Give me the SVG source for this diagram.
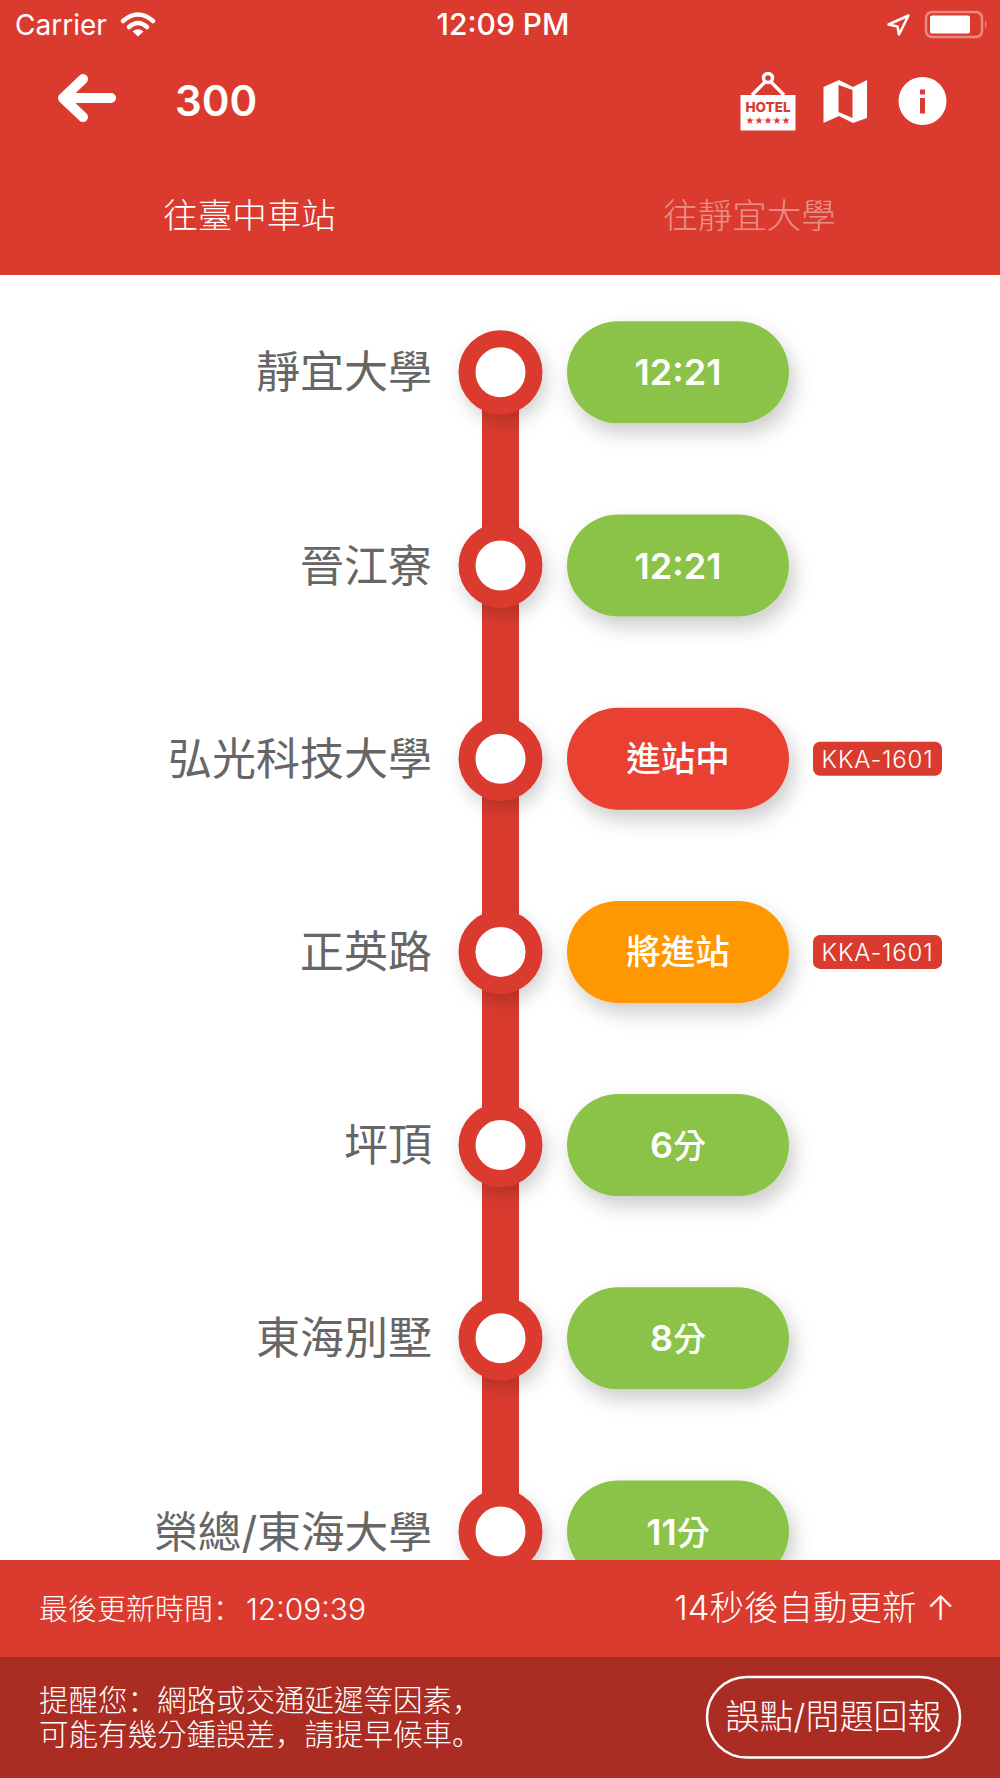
<svg xmlns="http://www.w3.org/2000/svg" width="1000" height="1778" viewBox="0 0 1000 1778">
<defs>
<style>
text{font-family:"Inter","Noto Sans CJK TC","Noto Sans CJK SC",sans-serif;fill:#fff}
.st{font-size:44px;fill:#666;text-anchor:end;font-weight:400}
.pt{font-size:36px;font-weight:600;text-anchor:middle}
.pu{font-size:33px;font-weight:500}
.pc{font-size:34.500px;font-weight:500;text-anchor:middle}
.bd{font-size:24px;font-weight:300;text-anchor:middle;letter-spacing:.8px}
.ring{fill:#fff;stroke:#DA3B2E;stroke-width:17}
.sc{font-family:"Noto Sans CJK SC",sans-serif}
</style>
<filter id="sh" x="-30%" y="-40%" width="170%" height="200%"><feDropShadow dx="5" dy="10" stdDeviation="10" flood-color="#000" flood-opacity=".2"/></filter>
<filter id="sc" x="-40%" y="-40%" width="190%" height="190%"><feDropShadow dx="4" dy="8" stdDeviation="9" flood-color="#000" flood-opacity=".18"/></filter>
<linearGradient id="bar" x1="0" x2="0" y1="0" y2="1"><stop offset="0" stop-color="#BD342A"/><stop offset=".16" stop-color="#DA3B2E"/></linearGradient>
</defs>
<rect width="1000" height="1778" fill="#fff"/>
<g id="connectors">
<rect x="482" y="372.300" width="37" height="193.200" fill="url(#bar)"/>
<rect x="482" y="565.500" width="37" height="193.200" fill="url(#bar)"/>
<rect x="482" y="758.700" width="37" height="193.200" fill="url(#bar)"/>
<rect x="482" y="951.900" width="37" height="193.200" fill="url(#bar)"/>
<rect x="482" y="1145.100" width="37" height="193.200" fill="url(#bar)"/>
<rect x="482" y="1338.300" width="37" height="193.200" fill="url(#bar)"/>
</g>
<g id="stop-1"><text class="st" x="432" y="388.300">靜宜大學</text><circle class="ring" cx="500.500" cy="372.300" r="33.500" filter="url(#sc)"/><rect x="567" y="321.300" width="222" height="102" rx="51" fill="#8BC34A" filter="url(#sh)"/><text class="pt" x="678" y="385.300">12:21</text></g>
<g id="stop-2"><text class="st" x="432" y="581.500">晉江寮</text><circle class="ring" cx="500.500" cy="565.500" r="33.500" filter="url(#sc)"/><rect x="567" y="514.500" width="222" height="102" rx="51" fill="#8BC34A" filter="url(#sh)"/><text class="pt" x="678" y="578.500">12:21</text></g>
<g id="stop-3"><text class="st" x="432" y="774.700">弘光科技大學</text><circle class="ring" cx="500.500" cy="758.700" r="33.500" filter="url(#sc)"/><rect x="567" y="707.700" width="222" height="102" rx="51" fill="#EA4033" filter="url(#sh)"/><text class="pc" x="678" y="771">進站中</text><rect x="813" y="741.700" width="129" height="34" rx="7" fill="#DA3B2E"/><text class="bd" x="877.500" y="767.500">KKA-1601</text></g>
<g id="stop-4"><text class="st" x="432" y="967.900">正英路</text><circle class="ring" cx="500.500" cy="951.900" r="33.500" filter="url(#sc)"/><rect x="567" y="900.900" width="222" height="102" rx="51" fill="#FF9800" filter="url(#sh)"/><text class="pc" x="678" y="964">將進站</text><rect x="813" y="934.900" width="129" height="34" rx="7" fill="#DA3B2E"/><text class="bd" x="877.500" y="960.700">KKA-1601</text></g>
<g id="stop-5"><text class="st" x="432" y="1161.100">坪頂</text><circle class="ring" cx="500.500" cy="1145.100" r="33.500" filter="url(#sc)"/><rect x="567" y="1094.100" width="222" height="102" rx="51" fill="#8BC34A" filter="url(#sh)"/><text class="pt" x="678" y="1158">6<tspan class="pu">分</tspan></text></g>
<g id="stop-6"><text class="st" x="432" y="1354.300">東海別墅</text><circle class="ring" cx="500.500" cy="1338.300" r="33.500" filter="url(#sc)"/><rect x="567" y="1287.300" width="222" height="102" rx="51" fill="#8BC34A" filter="url(#sh)"/><text class="pt" x="678" y="1351.300">8<tspan class="pu">分</tspan></text></g>
<g id="stop-7"><text class="st" x="432" y="1547.500" style="font-size:43.700px">榮總/東海大學</text><circle class="ring" cx="500.500" cy="1531.500" r="33.500" filter="url(#sc)"/><rect x="567" y="1480.500" width="222" height="102" rx="51" fill="#8BC34A" filter="url(#sh)"/><text class="pt" x="678" y="1544.500">11<tspan class="pu">分</tspan></text></g>
<g id="header">
<rect width="1000" height="275" fill="#DA3B2E"/>
<text x="15" y="35" font-size="28" font-weight="400">Carrier</text>
<g id="wifi" fill="none" stroke="#fff" stroke-linecap="round"><path d="M123 21Q138 8 153 21" stroke-width="4.500"/><path d="M129 27Q138 19 147 27" stroke-width="4.500"/><path d="M132.500 31.500L138 36.500L143.500 31.500Q138 27 132.500 31.500Z" fill="#fff" stroke="none"/></g>
<text x="503" y="35" font-size="30" font-weight="500" text-anchor="middle">12:09 PM</text>
<path d="M888.500 24.500L908.500 15.500L899 34.500L897.500 26.500Z" fill="none" stroke="#fff" stroke-width="2.500" stroke-linejoin="round"/>
<rect x="926" y="12" width="56" height="25" rx="6" fill="none" stroke="#fff" stroke-opacity=".4" stroke-width="2.500"/>
<rect x="930" y="15.500" width="40" height="18" rx="2" fill="#fff"/>
<path d="M985 20Q988 24.500 985 29Z" fill="#fff" fill-opacity=".4"/>
<path d="M63 98H111M83 79L63 98L83 117" fill="none" stroke="#fff" stroke-width="10" stroke-linecap="round" stroke-linejoin="round"/>
<text x="175" y="116" font-size="42" font-weight="600">300</text>
<g id="hotel-icon"><path d="M752 95L768 79M784 95L768 79" stroke="#fff" stroke-width="3.500"/><circle cx="768" cy="78" r="4.500" fill="#DA3B2E" stroke="#fff" stroke-width="3.500"/><rect x="740.500" y="95" width="55" height="35.500" fill="#fff"/><text x="768" y="112" font-size="13.500" font-weight="800" text-anchor="middle" style="fill:#DA3B2E">HOTEL</text><text x="768" y="124" font-size="10" text-anchor="middle" style="fill:#DA3B2E;font-family:'DejaVu Sans',sans-serif">★★★★★</text></g>
<path id="map-icon" d="M823.500 87L839 80L853 87L867 80V118L853 123L839 116L823.500 123ZM838.500 85V112L852.500 118V90Z" fill="#fff" fill-rule="evenodd"/>
<g id="info-icon"><circle cx="922.500" cy="101" r="24" fill="#fff"/><rect x="920" y="89.500" width="5" height="5" fill="#DA3B2E"/><rect x="920" y="98" width="5" height="15.500" fill="#DA3B2E"/></g>
<text x="249.500" y="228" font-size="34.500" text-anchor="middle" font-weight="300">往臺中車站</text>
<text x="749.500" y="228" font-size="34.500" text-anchor="middle" font-weight="300" style="fill:#fff;fill-opacity:.45">往靜宜大學</text>
</g>
<g id="footer">
<rect y="1560" width="1000" height="97" fill="#DA3B2E"/>
<rect y="1657" width="1000" height="121" fill="#AB2C23"/>
<text x="39" y="1620" font-size="29" font-weight="300">最後更新時間<tspan class="sc">：</tspan></text>
<text x="246" y="1620" font-size="30" font-weight="300">12:09:39</text>
<text x="955" y="1620" font-size="34.500" font-weight="300" text-anchor="end">14秒後自動更新 ↑</text>
<text x="39" y="1711" font-size="29.500" font-weight="300">提醒您<tspan class="sc">：</tspan>網路或交通延遲等因素<tspan class="sc">，</tspan></text>
<text x="39" y="1745" font-size="29.500" font-weight="300">可能有幾分鍾誤差<tspan class="sc">，</tspan>請提早候車<tspan class="sc">。</tspan></text>
<g id="report-button"><rect x="707" y="1677" width="253" height="80.500" rx="40" fill="none" stroke="#fff" stroke-width="2.500"/><text x="833.500" y="1729" font-size="34" font-weight="300" text-anchor="middle">誤點/問題回報</text></g>
</g>
</svg>
